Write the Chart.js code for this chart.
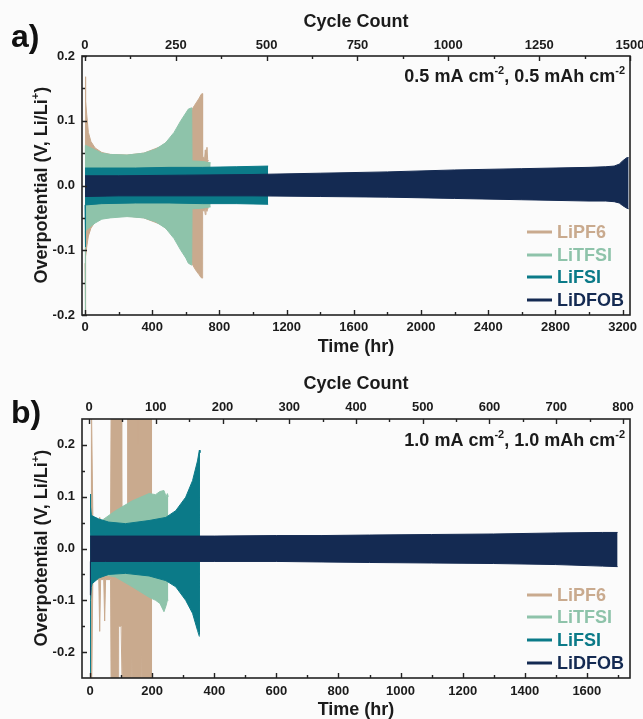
<!DOCTYPE html>
<html>
<head>
<meta charset="utf-8">
<script src="https://cdn.jsdelivr.net/npm/chart.js@4.4.1/dist/chart.umd.min.js"></script>
<style>
  html, body { margin: 0; padding: 0; background: #fbfbfb; }
  #wrap { position: relative; width: 643px; height: 719px; overflow: hidden; }
  #wrap canvas { position: absolute; left: 0; }
</style>
</head>
<body>
<div id="wrap">
  <canvas id="panelA" width="643" height="356" style="top:0px"></canvas>
  <canvas id="panelB" width="643" height="363" style="top:356px"></canvas>
</div>
<script>
// ---------- series ----------
const seriesNames  = ['LiPF6', 'LiTFSI', 'LiFSI', 'LiDFOB'];
const seriesColors = ['#c9aa8e', '#8ec3aa', '#0b7a88', '#142a52'];

// ---------- panel a: 0.5 mA cm-2, 0.5 mAh cm-2 ----------
const aTimeTicks  = [0, 400, 800, 1200, 1600, 2000, 2400, 2800, 3200];
const aCycleTicks = [0, 250, 500, 750, 1000, 1250, 1500];
const aVoltTicks  = [-0.2, -0.1, 0, 0.1, 0.2];

// envelope of the voltage trace (upper / lower extremes) vs time (hr)
const aPF6Time  = [0, 2, 5, 10, 20, 35, 60, 100, 150, 250, 350, 450, 550, 620, 636, 650, 665, 680, 690, 697, 700, 712, 716, 720, 726, 730, 735];
const aPF6Upper = [0.10, 0.168, 0.13, 0.11, 0.082, 0.068, 0.058, 0.051, 0.048, 0.047, 0.05, 0.06, 0.08, 0.11, 0.117, 0.123, 0.129, 0.135, 0.14, 0.142, 0.045, 0.042, 0.055, 0.04, 0.059, 0.04, 0.038];
const aPF6Lower = [-0.12, -0.2, -0.11, -0.095, -0.078, -0.066, -0.056, -0.05, -0.048, -0.047, -0.05, -0.06, -0.08, -0.115, -0.12, -0.127, -0.133, -0.138, -0.142, -0.143, -0.04, -0.038, -0.045, -0.035, -0.04, -0.035, -0.035];

const aTFSITime  = [0, 1, 3, 20, 60, 100, 150, 250, 350, 420, 480, 530, 570, 600, 615, 635, 637, 700, 748];
const aTFSIUpper = [0.05, 0.062, 0.062, 0.06, 0.055, 0.05, 0.048, 0.047, 0.05, 0.056, 0.066, 0.082, 0.1, 0.112, 0.118, 0.12, 0.038, 0.037, 0.035];
const aTFSILower = [-0.21, -0.15, -0.07, -0.066, -0.058, -0.052, -0.05, -0.048, -0.05, -0.056, -0.066, -0.082, -0.1, -0.112, -0.12, -0.123, -0.036, -0.035, -0.033];

const aFSITime  = [0, 2, 4, 100, 300, 500, 700, 900, 1090];
const aFSIUpper = [0.027, 0.027, 0.027, 0.027, 0.027, 0.028, 0.028, 0.029, 0.030];
const aFSILower = [-0.03, -0.095, -0.03, -0.028, -0.027, -0.027, -0.028, -0.028, -0.029];

const aDFOBTime  = [0, 200, 600, 1000, 1400, 1800, 2200, 2600, 3000, 3100, 3150, 3180, 3200, 3225, 3236];
const aDFOBUpper = [0.015, 0.015, 0.016, 0.017, 0.019, 0.021, 0.024, 0.026, 0.028, 0.029, 0.030, 0.033, 0.038, 0.043, 0.043];
const aDFOBLower = [-0.017, -0.016, -0.016, -0.016, -0.017, -0.018, -0.020, -0.022, -0.024, -0.024, -0.025, -0.027, -0.031, -0.035, -0.036];

// ---------- panel b: 1.0 mA cm-2, 1.0 mAh cm-2 ----------
const bTimeTicks  = [0, 200, 400, 600, 800, 1000, 1200, 1400, 1600];
const bCycleTicks = [0, 100, 200, 300, 400, 500, 600, 700, 800];
const bVoltTicks  = [-0.2, -0.1, 0, 0.1, 0.2];

const bPF6Time  = [2, 4, 6, 9, 28, 31, 34, 44, 47, 50, 66, 68, 90, 92, 100, 102, 104, 119, 121, 124, 134, 135, 136, 152, 153, 154, 166, 167, 168, 200];
const bPF6Upper = [0.3, 0.3, 0.3, 0.06, 0.055, 0.06, 0.055, 0.05, 0.05, 0.05, 0.05, 0.3, 0.3, 0.3, 0.3, 0.07, 0.07, 0.07, 0.3, 0.3, 0.3, 0.3, 0.3, 0.3, 0.2, 0.3, 0.3, 0.3, 0.3, 0.3];
const bPF6Lower = [-0.3, -0.3, -0.3, -0.06, -0.06, -0.16, -0.06, -0.06, -0.14, -0.06, -0.06, -0.3, -0.3, -0.15, -0.15, -0.15, -0.3, -0.3, -0.3, -0.3, -0.3, -0.2, -0.3, -0.3, -0.3, -0.3, -0.3, -0.2, -0.3, -0.3];

const bTFSITime  = [25, 40, 82, 136, 190, 211, 225, 238, 245, 249, 252];
const bTFSIUpper = [0.05, 0.055, 0.073, 0.092, 0.106, 0.104, 0.11, 0.112, 0.1, 0.106, 0.1];
const bTFSILower = [-0.05, -0.05, -0.055, -0.074, -0.094, -0.1, -0.106, -0.122, -0.11, -0.1, -0.1];

const bFSITime  = [0, 1, 2, 4, 6.5, 28, 60, 114, 190, 244, 276, 308, 330, 346, 352, 354];
const bFSIUpper = [0.03, 0.105, 0.08, 0.065, 0.063, 0.057, 0.051, 0.048, 0.054, 0.06, 0.073, 0.099, 0.131, 0.169, 0.19, 0.185];
const bFSILower = [-0.3, -0.3, -0.1, -0.075, -0.068, -0.057, -0.05, -0.048, -0.053, -0.062, -0.074, -0.1, -0.125, -0.158, -0.17, -0.17];

const bDFOBTime  = [0, 1, 50, 200, 400, 600, 744, 900, 1100, 1300, 1500, 1650, 1699];
const bDFOBUpper = [0.024, 0.024, 0.024, 0.024, 0.024, 0.025, 0.025, 0.026, 0.027, 0.028, 0.030, 0.031, 0.031];
const bDFOBLower = [-0.09, -0.025, -0.025, -0.025, -0.025, -0.025, -0.026, -0.027, -0.028, -0.029, -0.031, -0.034, -0.035];

// ---------- drawing helpers ----------
const FAM = '"Liberation Sans", Arial, Helvetica, sans-serif';
const INK = '#1b1b1b';
Chart.defaults.font.family = FAM;
Chart.defaults.font.weight = 'bold';
Chart.defaults.color = INK;

function bandDatasets(name, color, time, upper, lower) {
  const common = { borderColor: color, backgroundColor: color, borderWidth: 1,
                   pointRadius: 0, tension: 0, label: name };
  return [
    Object.assign({}, common, { data: time.map((t, i) => ({ x: t, y: upper[i] })), fill: '+1' }),
    Object.assign({}, common, { data: time.map((t, i) => ({ x: t, y: lower[i] })), fill: false })
  ];
}

function minorsOf(majors, lo, hi) {
  const step = majors[1] - majors[0];
  const out = [];
  for (let i = -1; i < majors.length; i++) {
    const v = (i < 0 ? majors[0] : majors[i]) + (i < 0 ? -step / 2 : step / 2);
    if (v > lo + 1e-9 && v < hi - 1e-9) out.push(v);
  }
  return out;
}

function drawSupText(ctx, parts, right, baseline, size) {
  const big = `bold ${size}px ${FAM}`, small = `bold ${Math.round(size * 0.62)}px ${FAM}`;
  let total = 0;
  parts.forEach(p => { ctx.font = p.sup ? small : big; p.w = ctx.measureText(p.t).width; total += p.w; });
  let x = right - total;
  ctx.textAlign = 'left'; ctx.textBaseline = 'alphabetic';
  parts.forEach(p => {
    ctx.font = p.sup ? small : big;
    ctx.fillText(p.t, x, p.sup ? baseline - size * 0.42 : baseline);
    x += p.w;
  });
}

const decor = {
  id: 'decor',
  afterDraw(chart, args, o) {
    const ctx = chart.ctx, a = chart.chartArea;
    const sx = chart.scales.x, sc = chart.scales.x2, sy = chart.scales.y;
    ctx.save();
    ctx.strokeStyle = '#222'; ctx.lineWidth = 1.4;
    ctx.beginPath();
    const tick = (px, vertical, from, len) => {
      if (vertical) { ctx.moveTo(Math.round(px) + 0.5, from); ctx.lineTo(Math.round(px) + 0.5, from + len); }
      else { ctx.moveTo(from, Math.round(px) + 0.5); ctx.lineTo(from + len, Math.round(px) + 0.5); }
    };
    o.timeTicks.forEach(v => tick(sx.getPixelForValue(v), true, a.bottom, -5));
    minorsOf(o.timeTicks, sx.min, sx.max).forEach(v => tick(sx.getPixelForValue(v), true, a.bottom, -3));
    o.cycleTicks.forEach(v => tick(sc.getPixelForValue(v), true, a.top, 5));
    minorsOf(o.cycleTicks, sc.min, sc.max).forEach(v => tick(sc.getPixelForValue(v), true, a.top, 3));
    o.voltTicks.forEach(v => tick(sy.getPixelForValue(v), false, a.left, 5));
    minorsOf(o.voltTicks, sy.min, sy.max).forEach(v => tick(sy.getPixelForValue(v), false, a.left, 3));
    ctx.stroke();
    ctx.lineWidth = 1.6;
    ctx.strokeRect(a.left, a.top, a.right - a.left, a.bottom - a.top);

    // y-axis title with superscript
    ctx.fillStyle = INK;
    ctx.translate(o.yTitleX, (a.top + a.bottom) / 2);
    ctx.rotate(-Math.PI / 2);
    const parts = [{ t: 'Overpotential (V, Li/Li' }, { t: '+', sup: true }, { t: ')' }];
    let tw = 0;
    parts.forEach(p => { ctx.font = p.sup ? `bold 12px ${FAM}` : `bold 18px ${FAM}`; p.w = ctx.measureText(p.t).width; tw += p.w; });
    drawSupText(ctx, parts, tw / 2, 6.5, 18);
    ctx.setTransform(1, 0, 0, 1, 0, 0);

    // panel letter
    ctx.fillStyle = '#111';
    ctx.font = `bold 32px ${FAM}`;
    ctx.textAlign = 'left'; ctx.textBaseline = 'alphabetic';
    ctx.fillText(o.letter, 11, o.letterY);

    // current density / capacity note
    ctx.fillStyle = INK;
    drawSupText(ctx, [{ t: o.note[0] + ' mA cm' }, { t: '-2', sup: true }, { t: ', ' + o.note[1] + ' mAh cm' }, { t: '-2', sup: true }],
                a.right - 5, o.noteY, 18);

    // legend
    ctx.lineWidth = 3;
    seriesNames.forEach((name, i) => {
      const y = o.legendY[i];
      ctx.strokeStyle = seriesColors[i];
      ctx.beginPath(); ctx.moveTo(527, y); ctx.lineTo(552, y); ctx.stroke();
      ctx.fillStyle = seriesColors[i];
      ctx.font = `bold 18px ${FAM}`;
      ctx.textAlign = 'left'; ctx.textBaseline = 'middle';
      ctx.fillText(name, 557, y + 1);
    });
    ctx.restore();
  }
};

function makePanel(canvasId, cfg) {
  const H = cfg.height;
  const datasets = [];
  // first dataset is drawn on top: LiDFOB, LiFSI, LiTFSI, LiPF6
  for (let i = seriesNames.length - 1; i >= 0; i--) {
    const s = cfg.series[i];
    datasets.push(...bandDatasets(seriesNames[i], seriesColors[i], s[0], s[1], s[2]));
  }
  const tickFont = { size: 13, weight: 'bold', family: FAM };
  const titleFont = { size: 18, weight: 'bold', family: FAM };
  const fixTicks = vals => (s => { s.ticks = vals.map(v => ({ value: v })); });
  const noGrid = { display: false, drawTicks: false, tickLength: 0 };
  return new Chart(document.getElementById(canvasId), {
    type: 'line',
    data: { datasets },
    options: {
      responsive: false, animation: false, devicePixelRatio: 1,
      layout: { padding: { left: 0, right: 13, top: 0, bottom: 0 } },
      plugins: {
        legend: { display: false }, tooltip: { enabled: false },
        decor: {
          timeTicks: cfg.timeTicks, cycleTicks: cfg.cycleTicks, voltTicks: cfg.voltTicks,
          letter: cfg.letter, letterY: cfg.letterY, note: cfg.note, noteY: cfg.noteY,
          legendY: cfg.legendY, yTitleX: 40
        }
      },
      scales: {
        x: {
          type: 'linear', position: 'bottom', min: cfg.timeRange[0], max: cfg.timeRange[1],
          grid: noGrid, border: { display: false },
          afterBuildTicks: fixTicks(cfg.timeTicks),
          ticks: { font: tickFont, padding: cfg.bottomPad, maxRotation: 0, autoSkip: false, callback: v => String(v) },
          title: { display: true, text: 'Time (hr)', font: titleFont, padding: { top: 0, bottom: -2 } },
          afterFit: s => { s.height = H - cfg.plotBottom; s.paddingLeft = 0; s.paddingRight = 0; }
        },
        x2: {
          type: 'linear', position: 'top', min: cfg.cycleRange[0], max: cfg.cycleRange[1],
          grid: noGrid, border: { display: false },
          afterBuildTicks: fixTicks(cfg.cycleTicks),
          ticks: { font: tickFont, padding: cfg.topPad, maxRotation: 0, autoSkip: false, callback: v => String(v) },
          title: { display: true, text: 'Cycle Count', font: titleFont, padding: { top: cfg.cycleTitlePad, bottom: 0 } },
          afterFit: s => { s.height = cfg.plotTop; s.paddingLeft = 0; s.paddingRight = 0; }
        },
        y: {
          type: 'linear', position: 'left', min: cfg.voltRange[0], max: cfg.voltRange[1],
          grid: noGrid, border: { display: false },
          afterBuildTicks: fixTicks(cfg.voltTicks),
          ticks: { font: tickFont, padding: 7, autoSkip: false, callback: v => v.toFixed(1) },
          title: { display: false },
          afterFit: s => { s.width = 82; s.paddingTop = 0; s.paddingBottom = 0; }
        }
      }
    },
    plugins: [decor]
  });
}

makePanel('panelA', {
  height: 356, plotTop: 56, plotBottom: 315,
  timeRange: [-18, 3244], cycleRange: [-8.2, 1500], voltRange: [-0.2, 0.2],
  timeTicks: aTimeTicks, cycleTicks: aCycleTicks, voltTicks: aVoltTicks,
  topPad: 3, bottomPad: 5, cycleTitlePad: 11,
  letter: 'a)', letterY: 47, note: ['0.5', '0.5'], noteY: 82,
  legendY: [232, 255, 277, 300],
  series: [
    [aPF6Time, aPF6Upper, aPF6Lower],
    [aTFSITime, aTFSIUpper, aTFSILower],
    [aFSITime, aFSIUpper, aFSILower],
    [aDFOBTime, aDFOBUpper, aDFOBLower]
  ]
});

makePanel('panelB', {
  height: 363, plotTop: 63, plotBottom: 322,
  timeRange: [-26, 1739], cycleRange: [-10.5, 810.5], voltRange: [-0.25, 0.25],
  timeTicks: bTimeTicks, cycleTicks: bCycleTicks, voltTicks: bVoltTicks,
  topPad: 4, bottomPad: 6, cycleTitlePad: 17,
  letter: 'b)', letterY: 67, note: ['1.0', '1.0'], noteY: 90,
  legendY: [239, 261, 284, 307],
  series: [
    [bPF6Time, bPF6Upper, bPF6Lower],
    [bTFSITime, bTFSIUpper, bTFSILower],
    [bFSITime, bFSIUpper, bFSILower],
    [bDFOBTime, bDFOBUpper, bDFOBLower]
  ]
});
</script>
</body>
</html>
